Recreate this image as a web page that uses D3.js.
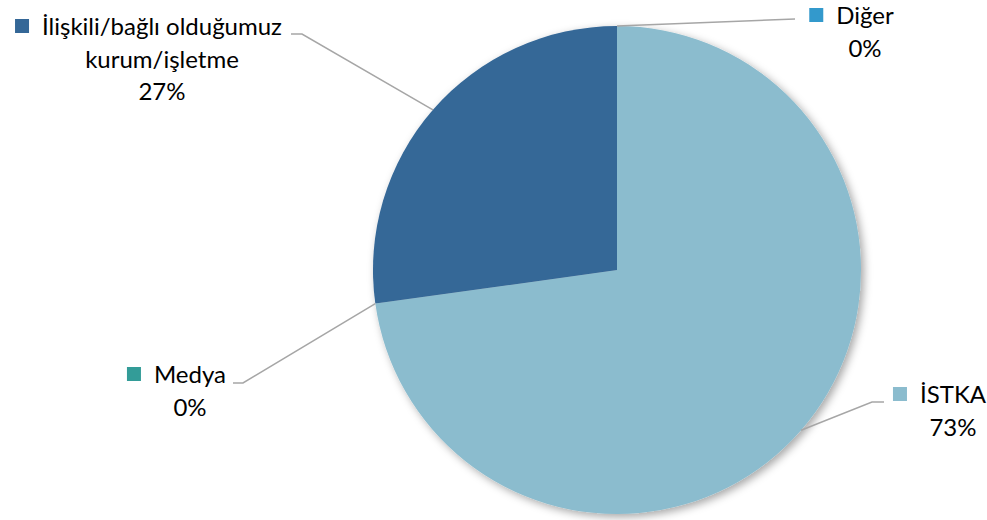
<!DOCTYPE html>
<html><head><meta charset="utf-8">
<script src="https://cdn.jsdelivr.net/npm/d3@7"></script>
<style>html,body{margin:0;padding:0;background:#fff;overflow:hidden}svg{display:block}</style>
</head><body>
<svg id="chart" width="987" height="520"></svg>
<script>
const categories = ["İSTKA", "Medya", "İlişkili/bağlı olduğumuz kurum/işletme", "Diğer"];
const values = [72.8, 0, 27.2, 0];
const colors = ["#8BBCCE", "#339C98", "#346797", "#3399CC"];
const labelLines = [["İSTKA"], ["Medya"], ["İlişkili/bağlı olduğumuz", "kurum/işletme"], ["Diğer"]];

const svg = d3.select("#chart");
const cx = 617, cy = 270, r = 244;
const FONT = "Lato, 'Open Sans', sans-serif";
const FS = 24, LH = 32.5;

const defs = svg.append("defs");
const f = defs.append("filter").attr("id", "sh").attr("x", "-10%").attr("y", "-10%").attr("width", "125%").attr("height", "125%");
f.append("feDropShadow").attr("dx", 3).attr("dy", 3).attr("stdDeviation", 4).attr("flood-color", "#000").attr("flood-opacity", 0.35);

const total = d3.sum(values);
const pie = d3.pie().sort(null).value(d => d)(values);
const arc = d3.arc().innerRadius(0).outerRadius(r);

const g = svg.append("g").attr("transform", `translate(${cx},${cy})`).attr("filter", "url(#sh)");
g.selectAll("path").data(pie).join("path").attr("d", arc).attr("fill", (d, i) => colors[i]);

// label layout (positions only)
const layout = [
  {tx: 953, ty: 403, leader: [[884, 402], [872, 402]]},
  {tx: 190, ty: 383, leader: [[233, 383], [243, 383]]},
  {tx: 162, ty: 35, leader: [[291, 34], [302, 34]]},
  {tx: 865, ty: 24, leader: [[795, 19]]}
];

pie.forEach((d, i) => {
  const L = layout[i];
  const mid = (d.startAngle + d.endAngle) / 2;
  const p0 = [cx + r * Math.sin(mid), cy - r * Math.cos(mid)];
  const pts = [...L.leader, p0];
  svg.append("path").attr("d", d3.line()(pts)).attr("fill", "none")
    .attr("stroke", "#A6A6A6").attr("stroke-width", 1.5);

  const lines = [...labelLines[i], Math.round(values[i] / total * 100) + "%"];
  const tg = svg.append("g");
  let firstW = 0;
  lines.forEach((t, k) => {
    const tx = tg.append("text").attr("x", L.tx).attr("y", L.ty + k * LH)
      .attr("text-anchor", "middle").attr("font-family", FONT).attr("font-size", FS)
      .attr("fill", "#000").text(t);
    if (k === 0) firstW = tx.node().getComputedTextLength();
  });
  tg.append("rect").attr("x", L.tx - firstW / 2 - 13 - 14).attr("y", L.ty - 16)
    .attr("width", 14).attr("height", 14).attr("fill", colors[i]);
});
</script>
</body></html>
